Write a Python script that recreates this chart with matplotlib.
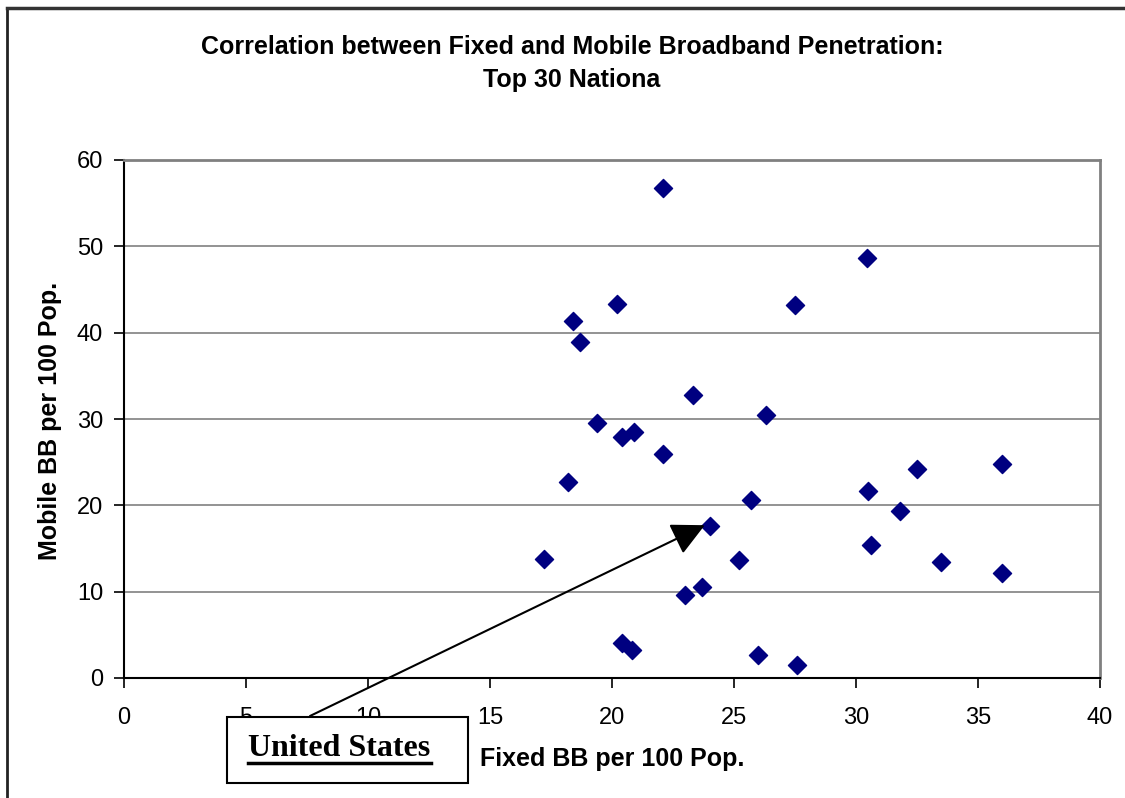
import matplotlib.pyplot as plt
from matplotlib.patches import Rectangle
from matplotlib.lines import Line2D

# fixed and mobile broadband per 100 pop, top 30 nations
fixed_bb = [22.1, 30.45, 20.2, 27.5, 18.4, 18.7, 23.3, 26.3, 19.4, 20.9,
            20.4, 22.1, 36.0, 32.5, 18.2, 30.5, 25.7, 31.8, 24.0, 30.6,
            17.2, 25.2, 33.5, 36.0, 23.7, 23.0, 20.4, 20.8, 26.0, 27.6]
mobile_bb = [56.8, 48.6, 43.3, 43.2, 41.3, 38.9, 32.8, 30.5, 29.5, 28.5,
             27.9, 26.0, 24.8, 24.2, 22.7, 21.7, 20.6, 19.3, 17.6, 15.4,
             13.8, 13.7, 13.4, 12.2, 10.5, 9.6, 4.1, 3.2, 2.7, 1.5]
us_point = (24.0, 17.6)

W, H = 1125, 798
fig = plt.figure(figsize=(W / 100, H / 100), dpi=100)
plt.rcParams['font.family'] = 'Liberation Sans'

ax = fig.add_axes([124 / W, 1 - 678 / H, (1100 - 124) / W, (678 - 160) / H])
ax.scatter(fixed_bb, mobile_bb, marker='D', s=85, color='#000080', zorder=3)

ax.set_xlim(0, 40)
ax.set_ylim(0, 60)
ax.set_xticks(range(0, 41, 5))
ax.set_yticks(range(0, 61, 10))
ax.grid(axis='y', color='#808080', linewidth=1.2)
ax.set_axisbelow(True)
ax.tick_params(labelsize=17, length=7, width=1.2, color='black')
ax.tick_params(axis='x', pad=14)
ax.tick_params(axis='y', pad=8)
for s in ['top', 'right']:
    ax.spines[s].set_color('#808080')
    ax.spines[s].set_linewidth(2)
for s in ['left', 'bottom']:
    ax.spines[s].set_color('black')
    ax.spines[s].set_linewidth(1.5)

# titles and axis labels
fig.text(572 / W, 1 - 47 / H, 'Correlation between Fixed and Mobile Broadband Penetration:',
         ha='center', va='center', fontsize=18, fontweight='bold')
fig.text(572 / W, 1 - 80 / H, 'Top 30 Nationa', ha='center', va='center',
         fontsize=18, fontweight='bold')
fig.text(612 / W, 1 - 759 / H, 'Fixed BB per 100 Pop.', ha='center', va='center',
         fontsize=18, fontweight='bold')
fig.text(50 / W, 1 - 421 / H, 'Mobile BB per 100 Pop.', ha='center', va='center',
         fontsize=18, fontweight='bold', rotation=90)

# outer frame
fig.add_artist(Line2D([7 / W, 7 / W], [1 - 8 / H, 0], color='#222222', lw=2))
fig.add_artist(Line2D([7 / W, 1], [1 - 8 / H, 1 - 8 / H], color='#333333', lw=2.5))

# annotation box for United States
fig.add_artist(Rectangle((227 / W, 1 - 783 / H), (468 - 227) / W, (783 - 717) / H,
                         transform=fig.transFigure, facecolor='white',
                         edgecolor='black', lw=1.5, zorder=5))
fig.text(339 / W, 1 - 748 / H, 'United States', ha='center', va='center',
         fontsize=23, fontweight='bold', family='Liberation Serif', zorder=6)
fig.add_artist(Line2D([248 / W, 431 / W], [1 - 763 / H, 1 - 763 / H],
                      color='black', lw=2.5, zorder=6))
ax.annotate('', xy=(23.8, 17.7), xycoords='data',
            xytext=(310 / W, 1 - 716 / H), textcoords='figure fraction',
            arrowprops=dict(arrowstyle='-|>,head_length=1.2,head_width=0.6',
                            color='black', lw=1.5, shrinkA=0, shrinkB=0,
                            mutation_scale=17),
            annotation_clip=False, zorder=4)

fig.savefig('out.png', dpi=100)
